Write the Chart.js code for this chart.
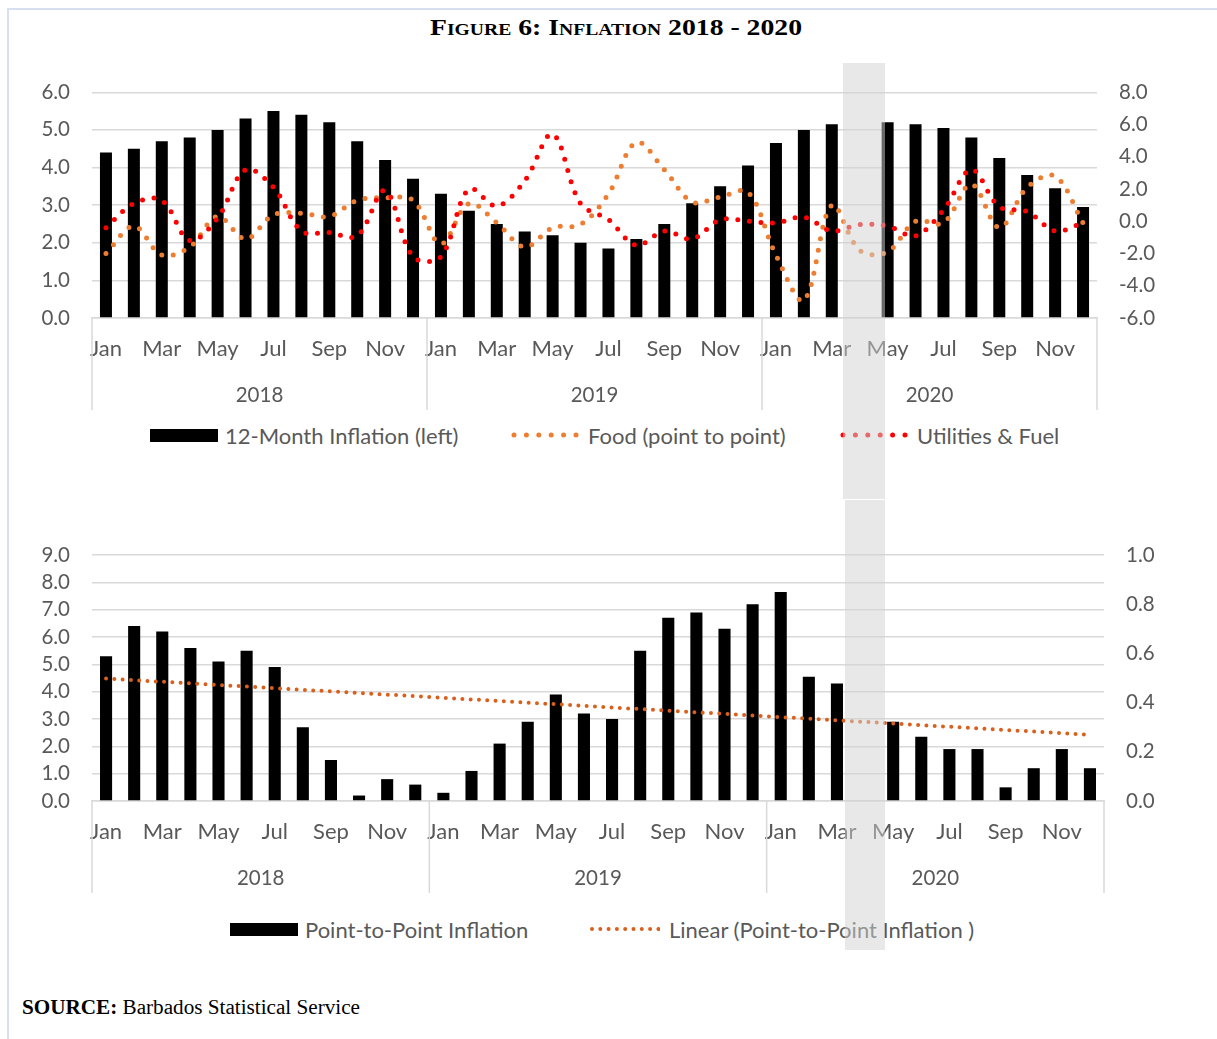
<!DOCTYPE html>
<html>
<head>
<meta charset="utf-8">
<title>Figure 6: Inflation 2018 - 2020</title>
<script src="https://cdn.jsdelivr.net/npm/chart.js@4.4.1/dist/chart.umd.min.js"></script>
<style>
  html, body { margin: 0; padding: 0; background: #fff; }
  #page { position: relative; width: 1217px; height: 1039px; overflow: hidden; background: #fff; }
  .frame-top { position: absolute; left: 7px; top: 8px; right: 0; height: 2px; background: #d6e0f0; }
  .frame-left { position: absolute; left: 7px; top: 8px; width: 2px; bottom: 0; background: #d6e0f0; }
  #title { position: absolute; top: 10px; left: 616px; white-space: nowrap; transform-origin: center top;
           font-family: 'Liberation Serif', 'DejaVu Serif', serif; font-weight: bold; font-variant: small-caps;
           font-size: 24px; line-height: 34px; color: #000; }
  #source { position: absolute; top: 994px; left: 22px; white-space: nowrap; transform-origin: left top;
            font-family: 'Liberation Serif', 'DejaVu Serif', serif; font-size: 20px; line-height: 26px; color: #000; }
  #source b { font-weight: bold; }
  canvas { position: absolute; left: 0; }
  #topChart { top: 60px; }
  #bottomChart { top: 510px; }
  .legend-item { position: absolute; display: flex; align-items: center; height: 28px; white-space: nowrap;
                 font-family: Lato, 'Open Sans', sans-serif; font-size: 22px; color: #595959; }
  .legend-item .bar { width: 68px; height: 13px; background: #000; margin-right: 7px; }
  .legend-item svg { margin-right: 9px; }
  .band { position: absolute; background: rgba(210, 210, 210, 0.5); pointer-events: none; z-index: 10; }
</style>
</head>
<body>
<div id="page">
  <div class="frame-top"></div>
  <div class="frame-left"></div>
  <div id="title">Figure 6: Inflation 2018 - 2020</div>

  <canvas id="topChart" width="1217" height="355"></canvas>
  <div class="legend-item" style="left:150px; top:421px;"><span class="bar"></span><span>12-Month Inflation (left)</span></div>
  <div class="legend-item" style="left:511px; top:421px;">
    <svg width="68" height="12"><line x1="3" y1="6" x2="66" y2="6" stroke="#ed7d31" stroke-width="5" stroke-linecap="round" stroke-dasharray="0 12.4"/></svg>
    <span>Food (point to point)</span></div>
  <div class="legend-item" style="left:840px; top:421px;">
    <svg width="68" height="12"><line x1="3" y1="6" x2="66" y2="6" stroke="#ff0000" stroke-width="5" stroke-linecap="round" stroke-dasharray="0 12.4"/></svg>
    <span>Utilities &amp; Fuel</span></div>

  <canvas id="bottomChart" width="1217" height="390"></canvas>
  <div class="legend-item" style="left:230px; top:915px;"><span class="bar"></span><span>Point-to-Point Inflation</span></div>
  <div class="legend-item" style="left:590px; top:915px;">
    <svg width="70" height="12"><line x1="2" y1="6" x2="69" y2="6" stroke="#d9601c" stroke-width="4" stroke-linecap="round" stroke-dasharray="0 8.3"/></svg>
    <span>Linear (Point-to-Point Inflation )</span></div>

  <div id="source"><b>SOURCE:</b> Barbados Statistical Service</div>

  <div class="band" id="bandTop"></div>
  <div class="band" id="bandBottom"></div>
</div>

<script>
// Month and year labels for the two-level category axis
const monthNames = ['Jan', 'Feb', 'Mar', 'Apr', 'May', 'Jun', 'Jul', 'Aug', 'Sep', 'Oct', 'Nov', 'Dec'];
const years = ['2018', '2019', '2020'];
const categories = years.flatMap(() => monthNames);

// Top panel: 12-month inflation (left axis, %) and point-to-point components (right axis, %)
const inflation12m = [4.4, 4.5, 4.7, 4.8, 5.0, 5.3, 5.5, 5.4, 5.2, 4.7, 4.2, 3.7,
                      3.3, 2.85, 2.5, 2.3, 2.2, 2.0, 1.85, 2.1, 2.5, 3.05, 3.5, 4.05,
                      4.65, 5.0, 5.15, null, 5.2, 5.15, 5.05, 4.8, 4.25, 3.8, 3.45, 2.95];
const foodP2P = [-2.0, -0.3, -2.1, -1.6, 0.3, -1.1, 0.4, 0.5, 0.3, 1.3, 1.45, 1.3,
                 -1.4, 1.1, -0.1, -1.6, -0.4, -0.2, 1.7, 4.9, 3.2, 1.2, 1.5, 1.8,
                 -2.1, -4.9, 1.0, -1.8, -1.9, 0.0, -0.1, 2.3, -0.4, 2.1, 2.8, -0.1];
const utilitiesFuel = [-0.4, 1.1, 1.3, -1.2, 0.2, 3.2, 2.1, -0.6, -0.7, -0.9, 1.9, -2.2,
                       -2.2, 2.0, 0.95, 2.5, 5.4, 1.1, 0.1, -1.5, -0.6, -1.1, 0.1, 0.0,
                       -0.1, 0.25, -0.6, -0.2, -0.3, -0.9, 0.7, 3.2, 0.9, 0.6, -0.6, -0.1];

// Bottom panel: point-to-point inflation (%)
const pointToPoint = [5.3, 6.4, 6.2, 5.6, 5.1, 5.5, 4.9, 2.7, 1.5, 0.2, 0.8, 0.6,
                      0.3, 1.1, 2.1, 2.9, 3.9, 3.2, 3.0, 5.5, 6.7, 6.9, 6.3, 7.2,
                      7.65, 4.55, 4.3, 0.0, 2.9, 2.35, 1.9, 1.9, 0.5, 1.2, 1.9, 1.2];

// Axis tick ranges
const topLeftTicks = { min: 0, max: 6, step: 1 };
const topRightTicks = { min: -6, max: 8, step: 2 };
const bottomLeftTicks = { min: 0, max: 9, step: 1 };
const bottomRightTicks = { min: 0, max: 1, step: 0.2 };

// Least-squares linear trend of a series
function linearTrend(values) {
  const n = values.length;
  let sx = 0, sy = 0, sxy = 0, sxx = 0;
  values.forEach((v, i) => { sx += i; sy += v; sxy += i * v; sxx += i * i; });
  const slope = (n * sxy - sx * sy) / (n * sxx - sx * sx);
  const intercept = (sy - slope * sx) / n;
  return values.map((_, i) => intercept + slope * i);
}

const TEXT = '#595959';
const GRID = '#d9d9d9';
const NUM_FONT = { family: 'Lato', size: 20.5, lineHeight: 1 };
const MONTH_FONT = { family: 'Lato', size: 22 };

// Draws the year row and the group separators under the month labels
const yearAxisPlugin = {
  id: 'yearAxis',
  afterDraw(chart) {
    const x = chart.scales.x;
    const top = chart.chartArea.bottom;
    const ctx = chart.ctx;
    ctx.save();
    ctx.strokeStyle = GRID;
    ctx.lineWidth = 1.5;
    for (let g = 0; g <= years.length; g++) {
      const px = x.getPixelForValue(g * 12 - 0.5);
      ctx.beginPath();
      ctx.moveTo(px, top);
      ctx.lineTo(px, top + 92);
      ctx.stroke();
    }
    ctx.fillStyle = TEXT;
    ctx.font = NUM_FONT.size + 'px ' + NUM_FONT.family;
    ctx.textAlign = 'center';
    ctx.textBaseline = 'middle';
    years.forEach((y, g) => {
      const c = (x.getPixelForValue(g * 12 - 0.5) + x.getPixelForValue(g * 12 + 11.5)) / 2;
      ctx.fillText(y, c, top + 77);
    });
    ctx.restore();
  }
};

function monthTickCallback(value, index) {
  return index % 2 === 0 ? categories[index] : '';
}

function xAxis() {
  return {
    type: 'category',
    offset: true,
    grid: { display: false },
    border: { display: true, color: GRID, width: 1.5 },
    ticks: { autoSkip: false, maxRotation: 0, minRotation: 0, padding: 10, color: TEXT, font: MONTH_FONT, callback: monthTickCallback },
    afterFit: s => { s.height = 92; }
  };
}

function valueAxis(position, range, width, showGrid) {
  return {
    position: position,
    min: range.min,
    max: range.max,
    grid: showGrid ? { color: GRID, lineWidth: 1.5, drawTicks: false } : { display: false, drawTicks: false },
    border: { display: false },
    ticks: { stepSize: range.step, maxTicksLimit: 20, padding: 22, color: TEXT, font: NUM_FONT, callback: v => Number(v).toFixed(1) },
    afterFit: s => { s.width = width; }
  };
}

const dotted = (color, width, gap) => ({
  borderColor: color,
  borderWidth: width,
  borderDash: [0, gap],
  borderCapStyle: 'round',
  pointRadius: 0,
  pointHoverRadius: 0,
  fill: false
});

const topChart = new Chart(document.getElementById('topChart'), {
  type: 'bar',
  data: {
    labels: categories,
    datasets: [
      Object.assign({ type: 'line', label: 'Utilities & Fuel', data: utilitiesFuel, yAxisID: 'y1', tension: 0.35, order: 0 },
                    dotted('#ff0000', 5, 11.6)),
      Object.assign({ type: 'line', label: 'Food (point to point)', data: foodP2P, yAxisID: 'y1', tension: 0.35, order: 1 },
                    dotted('#ed7d31', 5, 11.6)),
      { type: 'bar', label: '12-Month Inflation (left)', data: inflation12m, yAxisID: 'y', order: 2,
        backgroundColor: '#000', borderWidth: 0, barPercentage: 0.43, categoryPercentage: 1 }
    ]
  },
  options: {
    responsive: false,
    animation: false,
    devicePixelRatio: 1,
    layout: { padding: { left: 0, right: 0, top: 31, bottom: 5 } },
    plugins: { legend: { display: false }, tooltip: { enabled: false } },
    scales: {
      x: xAxis(),
      y: valueAxis('left', topLeftTicks, 92, true),
      y1: valueAxis('right', topRightTicks, 120, false)
    }
  },
  plugins: [yearAxisPlugin]
});

const bottomChart = new Chart(document.getElementById('bottomChart'), {
  type: 'bar',
  data: {
    labels: categories,
    datasets: [
      Object.assign({ type: 'line', label: 'Linear (Point-to-Point Inflation )', data: linearTrend(pointToPoint), yAxisID: 'y', tension: 0, order: 0 },
                    dotted('#d9601c', 4, 8.3)),
      { type: 'bar', label: 'Point-to-Point Inflation', data: pointToPoint, yAxisID: 'y', order: 1,
        backgroundColor: '#000', borderWidth: 0, barPercentage: 0.43, categoryPercentage: 1 }
    ]
  },
  options: {
    responsive: false,
    animation: false,
    devicePixelRatio: 1,
    layout: { padding: { left: 0, right: 0, top: 45, bottom: 7 } },
    plugins: { legend: { display: false }, tooltip: { enabled: false } },
    scales: {
      x: xAxis(),
      y: valueAxis('left', bottomLeftTicks, 92, true),
      y1: valueAxis('right', bottomRightTicks, 113, false)
    }
  },
  plugins: [yearAxisPlugin]
});

// Shaded highlight over April 2020 spanning both panels
function placeBand(el, chart, fromIdx, toIdx, top, bottom) {
  const x = chart.scales.x;
  const left = x.getPixelForValue(fromIdx);
  const right = x.getPixelForValue(toIdx);
  el.style.left = left + 'px';
  el.style.width = (right - left) + 'px';
  el.style.top = top + 'px';
  el.style.height = (bottom - top) + 'px';
}
const aprIdx = categories.length - 9; // April 2020
placeBand(document.getElementById('bandTop'), topChart, aprIdx - 0.6, aprIdx + 0.9, 63, 499);
placeBand(document.getElementById('bandBottom'), bottomChart, aprIdx - 0.7, aprIdx + 0.7, 500, 950);

// Fit title and source line to their widths
const title = document.getElementById('title');
const tw = title.getBoundingClientRect().width;
title.style.transform = 'translateX(-50%) scaleX(' + (372 / tw) + ')';
const source = document.getElementById('source');
const sw = source.getBoundingClientRect().width;
source.style.transform = 'scaleX(' + (338 / sw) + ')';
</script>
</body>
</html>
